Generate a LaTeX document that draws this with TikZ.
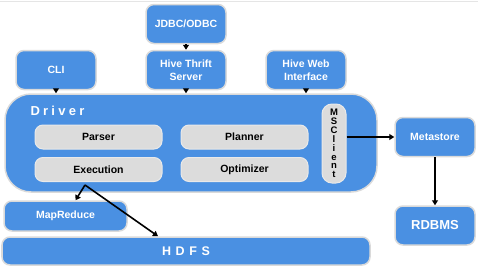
\documentclass[tikz,border=0pt]{standalone}
\usepackage{fontspec}
\setmainfont{Liberation Sans}
\newfontfamily\driverfont[LetterSpace=25]{Liberation Sans}
\newfontfamily\hdfsfont[LetterSpace=37]{Liberation Sans}
\usetikzlibrary{arrows.meta}
\definecolor{hiveblue}{HTML}{4A90E2}
\definecolor{hivegray}{HTML}{DCDCDC}
\definecolor{hiveedge}{HTML}{DADADA}

\begin{document}
\begin{tikzpicture}[x=1pt,y=-1pt,
  bluebox/.style={draw=hiveedge,line width=1.5pt,fill=hiveblue,rounded corners=8pt,
    text=white,font=\fontsize{10.5}{12.5}\selectfont\bfseries,align=center,inner sep=0pt,
    minimum width=80pt,minimum height=39pt},
  graybox/.style={draw=hiveedge!60,line width=1pt,fill=hivegray,rounded corners=8pt,
    font=\fontsize{10.5}{12.5}\selectfont\bfseries,inner sep=0pt,
    minimum width=127pt,minimum height=24pt},
  arr/.style={-{Triangle[length=5pt,width=6pt]},line width=1.6pt}]
  \useasboundingbox (0,0) rectangle (483,268);
  \draw[hiveedge!70,line width=0.8pt] (0,1) -- (478,1);
  % clients
  \node[bluebox] (jdbc) at (186,24) {JDBC/ODBC};
  \node[bluebox] (thrift) at (186,70) {Hive Thrift\\Server};
  \node[bluebox] (cli) at (56,70) {CLI};
  \node[bluebox] (web) at (306,70) {Hive Web\\Interface};
  % driver
  \node[bluebox,rounded corners=26pt,minimum width=372pt,minimum height=98pt] (driver) at (191,143) {};
  \node[anchor=west,text=white,font=\driverfont\fontsize{13}{15}\selectfont\bfseries] (drvlabel) at (27,111) {Driver};
  \node[graybox] (parser) at (98.5,137) {Parser};
  \node[graybox] (exec) at (98.5,169.5) {Execution};
  \node[graybox] (planner) at (244.5,137) {Planner};
  \node[graybox] (optim) at (244.5,169.5) {Optimizer};
  \node[graybox,minimum width=24pt,minimum height=79pt,rounded corners=10pt,align=center,
    font=\fontsize{9.5}{8.9}\selectfont\bfseries] (msc) at (334,143.5) {M\\S\\C\\l\\i\\e\\n\\t};
  % metastore
  \node[bluebox] (meta) at (435,137) {Metastore};
  \node[bluebox,font=\fontsize{13}{15}\selectfont\bfseries] (rdbms) at (435,225.5) {RDBMS};
  % execution engines
  \node[bluebox,minimum width=123pt,minimum height=30pt] (mapred) at (65.5,216) {MapReduce};
  \node[bluebox,minimum width=368pt,minimum height=28pt,font=\hdfsfont\fontsize{12.5}{14}\selectfont\bfseries] (hdfs) at (186,251) {HDFS};
  \coordinate (fork) at (85,185);
  % arrows
  \draw[arr] (jdbc.south) -- (thrift.north);
  \draw[arr] (cli.south) -- (cli.south |- driver.north);
  \draw[arr] (thrift.south) -- (thrift.south |- driver.north);
  \draw[arr] (web.south) -- (web.south |- driver.north);
  \draw[arr] (msc.east |- meta.west) -- (meta.west);
  \draw[arr] (meta.south) -- (rdbms.north);
  \draw[arr] (fork) -- ([xshift=10pt]mapred.north);
  \draw[arr] (fork) -- ([xshift=-28pt]hdfs.north);
\end{tikzpicture}
\end{document}
